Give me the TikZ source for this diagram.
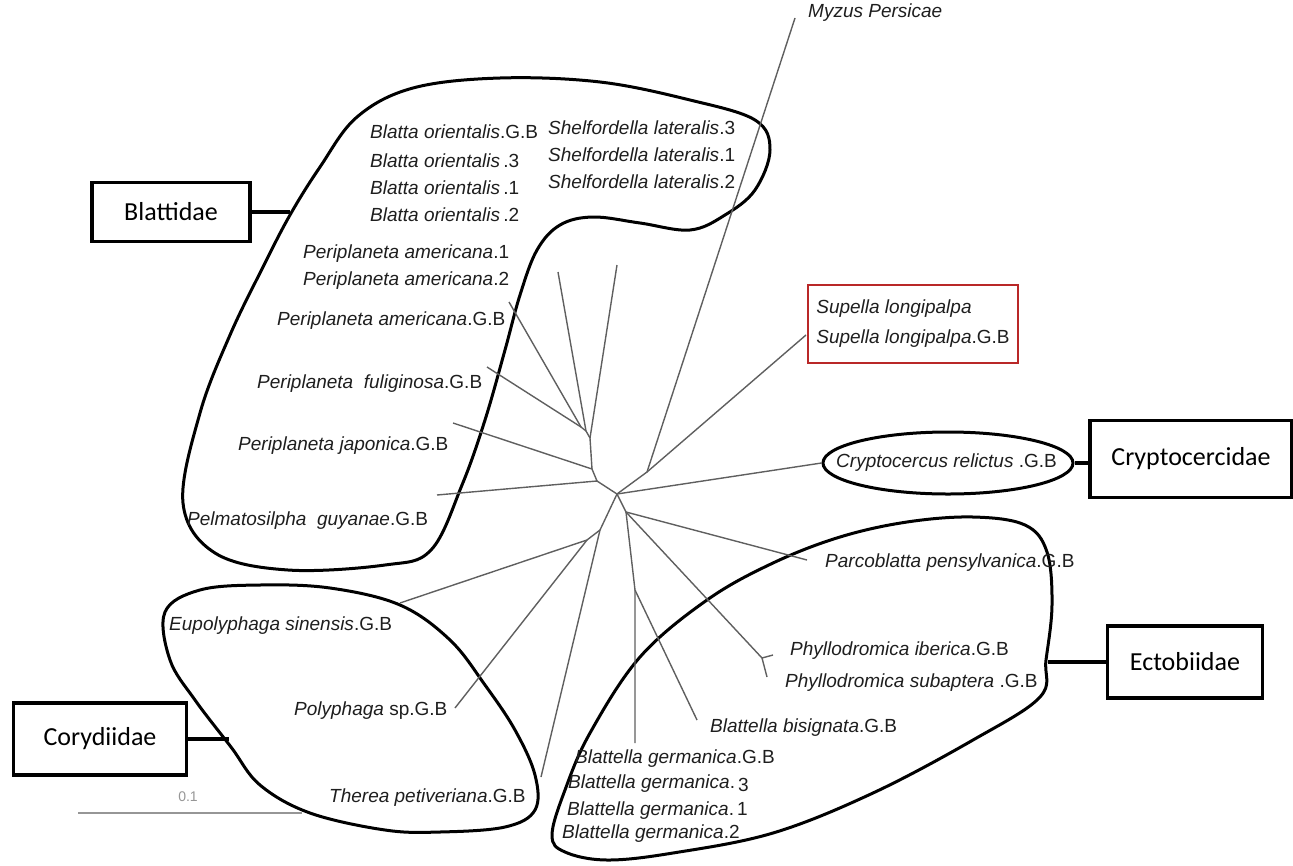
\documentclass[tikz,border=0pt]{standalone}
\usepackage{fontspec}
\setmainfont{Liberation Sans}
\newfontfamily\famfont{Carlito}
\usetikzlibrary{shapes.geometric}
\definecolor{branchgray}{RGB}{95,95,95}
\definecolor{boxred}{RGB}{185,40,40}
\definecolor{labgray}{RGB}{30,30,30}
\definecolor{scalegray}{RGB}{150,150,150}
\newcommand{\taxfont}{\fontsize{19}{22}\selectfont}
\newcommand{\gb}{.G.B}
\begin{document}
\begin{tikzpicture}[x=1pt, y=-1pt,
    branch/.style={draw=branchgray, line width=1.4pt},
    clade/.style={draw=black, line width=3pt},
    taxon/.style={anchor=west, inner sep=0pt, text height=14pt, text depth=4pt,
                  text=labgray, font=\taxfont},
    family/.style={draw=black, line width=3.5pt, fill=white, inner sep=0pt,
                   font=\famfont\fontsize{26}{30}\selectfont}]
  \useasboundingbox (0,0) rectangle (1293,865);

  % clade outlines
  \draw[clade] plot[smooth cycle, tension=0.6] coordinates {
    (183,503) (200,413) (230,335) (263,267) (290,215) (320,167) (357,117)
    (413,88) (500,78) (600,82) (690,100) (755,120) (770,150) (755,190)
    (725,215) (690,230) (640,223) (593,217) (560,225) (537,250) (520,295)
    (505,350) (485,420) (462,485) (431,550) (385,565) (288,570) (215,553)};
  \draw[clade] plot[smooth cycle, tension=0.6] coordinates {
    (165,612) (200,590) (260,585) (330,588) (400,605) (450,640) (485,685)
    (515,730) (535,775) (535,810) (505,827) (440,832) (385,830) (310,813)
    (260,785) (231,747) (195,700) (170,660)};
  \draw[clade] plot[smooth cycle, tension=0.6] coordinates {
    (552,835) (565,790) (590,733) (640,657) (707,600) (773,563) (840,537)
    (907,522) (973,517) (1025,525) (1047,552) (1052,605) (1046,660)
    (1040,697) (973,740) (873,793) (773,833) (673,853) (607,860) (565,852)};

  % inner nodes of the tree
  \coordinate (root) at (617,494);
  \coordinate (n1) at (597,481);
  \coordinate (n2) at (592,469);
  \coordinate (n3) at (590,438);
  \coordinate (n4) at (586,431);
  \coordinate (n5) at (581,427);
  \coordinate (m) at (647,472);
  \coordinate (e) at (626,512);
  \coordinate (p) at (762,658);
  \coordinate (g) at (635,590);
  \coordinate (c1) at (600,530);
  \coordinate (c2) at (587,540);
  % tips
  \coordinate (tPel) at (437,495);
  \coordinate (tJap) at (453,423);
  \coordinate (tShe) at (617,265);
  \coordinate (tOri) at (558,272);
  \coordinate (tAme) at (509,302);
  \coordinate (tFul) at (487,367);
  \coordinate (tMyz) at (795,18);
  \coordinate (tSup) at (806,335);
  \coordinate (tPar) at (807,560);
  \coordinate (tIbe) at (773,655);
  \coordinate (tSub) at (767,677);
  \coordinate (tGer) at (635,743);
  \coordinate (tBis) at (697,720);
  \coordinate (tEup) at (400,603);
  \coordinate (tPol) at (455,708);
  \coordinate (tThe) at (541,777);

  % labels
  \node[taxon] (bo4) at (370,133) {\textit{Blatta orientalis}\gb};
  \node[taxon] (bo3) at (370,162) {\textit{Blatta orientalis}\,.3};
  \node[taxon] (bo1) at (370,189) {\textit{Blatta orientalis}\,.1};
  \node[taxon] (bo2) at (370,216) {\textit{Blatta orientalis}\,.2};
  \node[taxon] (sl3) at (548,129) {\textit{Shelfordella lateralis}.3};
  \node[taxon] (sl1) at (548,156) {\textit{Shelfordella lateralis}.1};
  \node[taxon] (sl2) at (548,183) {\textit{Shelfordella lateralis}.2};
  \node[taxon] (pa1) at (303,253) {\textit{Periplaneta americana}.1};
  \node[taxon] (pa2) at (303,280) {\textit{Periplaneta americana}.2};
  \node[taxon] (pa3) at (277,320) {\textit{Periplaneta americana}\gb};
  \node[taxon] (pfu) at (257,383) {\textit{Periplaneta\ \ fuliginosa}\gb};
  \node[taxon] (pja) at (238,445) {\textit{Periplaneta japonica}\gb};
  \node[taxon] (pgu) at (187,520) {\textit{Pelmatosilpha\ \ guyanae}\gb};
  \node[taxon] (myz) at (808,12) {\textit{Myzus Persicae}};
  \node[draw=boxred, line width=2.5pt, align=left, inner xsep=8pt,
        minimum width=210pt, minimum height=78pt, text=labgray,
        font=\fontsize{19}{30}\selectfont] (sup) at (913,324)
        {\textit{Supella longipalpa}\\\textit{Supella longipalpa}\gb};
  \node[ellipse, draw=black, line width=3pt, minimum width=250pt,
        minimum height=62pt, inner sep=0pt] (cry) at (948,463) {};
  \node[taxon] (crylab) at (836,462) {\textit{Cryptocercus relictus}\ \gb};
  \node[taxon] (par) at (825,562) {\textit{Parcoblatta pensylvanica}\gb};
  \node[taxon] (ibe) at (790,650) {\textit{Phyllodromica iberica}\gb};
  \node[taxon] (sub) at (785,682) {\textit{Phyllodromica subaptera}\ \gb};
  \node[taxon] (bis) at (710,727) {\textit{Blattella bisignata}\gb};
  \node[taxon] (bg4) at (575,758) {\textit{Blattella germanica}\gb};
  \node[taxon] (bg3) at (568,783) {\textit{Blattella germanica}.\,\raisebox{-3pt}{3}};
  \node[taxon] (bg1) at (567,810) {\textit{Blattella germanica}.\,1};
  \node[taxon] (bg2) at (562,833) {\textit{Blattella germanica}.2};
  \node[taxon] (eup) at (169,625) {\textit{Eupolyphaga sinensis}\gb};
  \node[taxon] (pol) at (294,710) {\textit{Polyphaga} sp\gb};
  \node[taxon] (the) at (329,797) {\textit{Therea petiveriana}\gb};

  % branches
  \draw[branch] (root) -- (n1) -- (tPel);
  \draw[branch] (n1) -- (n2) -- (tJap);
  \draw[branch] (n2) -- (n3) -- (tShe);
  \draw[branch] (n3) -- (n4) -- (tOri);
  \draw[branch] (n4) -- (n5) -- (tAme);
  \draw[branch] (n5) -- (tFul);
  \draw[branch] (root) -- (m) -- (tMyz);
  \draw[branch] (m) -- (tSup);
  \draw[branch] (root) -- (cry.west);
  \draw[branch] (root) -- (e) -- (tPar);
  \draw[branch] (e) -- (p) -- (tSub);
  \draw[branch] (p) -- (tIbe);
  \draw[branch] (e) -- (g) -- (tGer);
  \draw[branch] (g) -- (tBis);
  \draw[branch] (root) -- (c1) -- (tThe);
  \draw[branch] (c1) -- (c2) -- (tEup);
  \draw[branch] (c2) -- (tPol);

  % families
  \node[family, minimum width=158pt, minimum height=59pt] (blattidae) at (171,212) {Blattidae};
  \node[family, minimum width=202pt, minimum height=77pt] (cryptocercidae) at (1191,459) {Cryptocercidae};
  \node[family, minimum width=155pt, minimum height=72pt] (ectobiidae) at (1185,662) {Ectobiidae};
  \node[family, minimum width=173pt, minimum height=72pt] (corydiidae) at (100,739) {Corydiidae};
  \coordinate (blaEnd) at (290,212);
  \coordinate (ectEnd) at (1048,662);
  \coordinate (corEnd) at (229,739);
  \draw[line width=3.5pt] (blattidae.east) -- (blaEnd);
  \draw[line width=3.5pt] (cry.east) -- (cry.east -| cryptocercidae.west);
  \draw[line width=3.5pt] (ectobiidae.west) -- (ectEnd);
  \draw[line width=3.5pt] (corydiidae.east) -- (corEnd);

  % scale bar
  \coordinate (sb1) at (78,813);
  \coordinate (sb2) at (302,813);
  \draw[draw=scalegray, line width=2.5pt] (sb1) -- (sb2);
  \node[text=scalegray, font=\fontsize{14}{16}\selectfont, inner sep=0pt] (sblab) at (188,797) {0.1};
\end{tikzpicture}
\end{document}
